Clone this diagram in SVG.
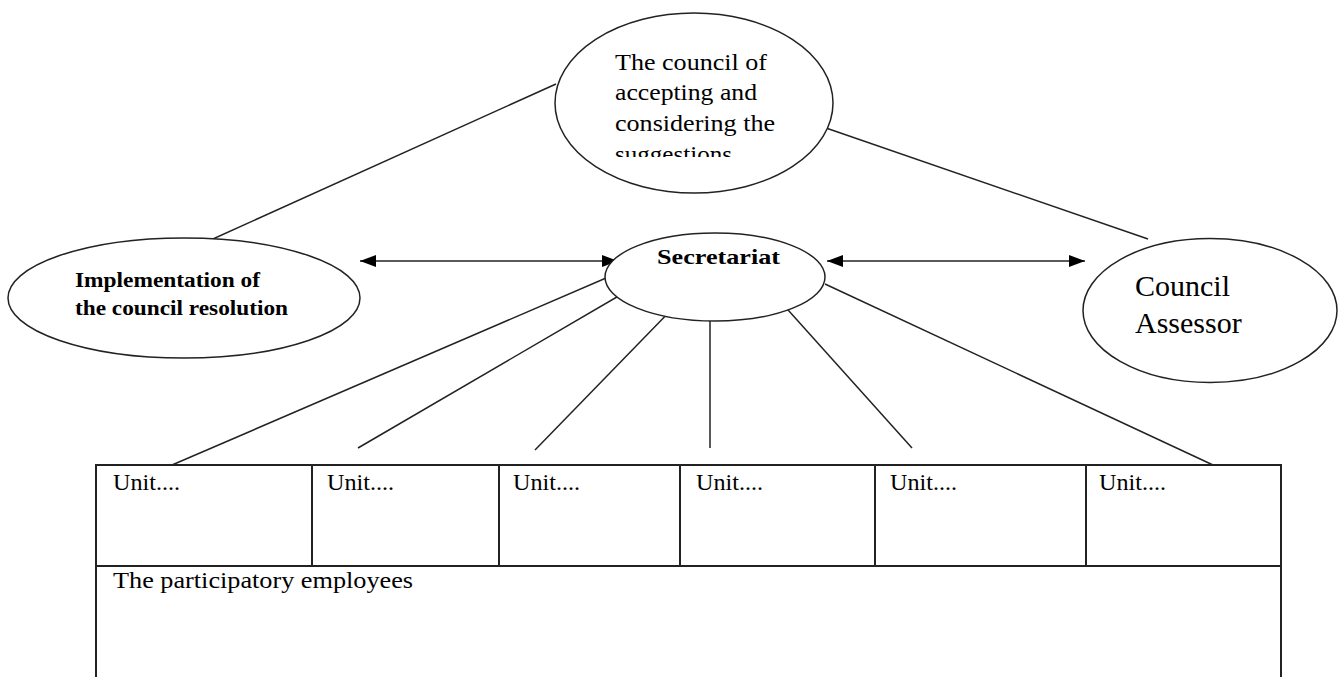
<svg xmlns="http://www.w3.org/2000/svg" width="1338" height="677" viewBox="0 0 1338 677">
<style>
.shape{fill:#fff;stroke:#222;stroke-width:1.5}
.conn{stroke:#222;stroke-width:1.5;fill:none}
.tbl{stroke:#222;stroke-width:2;fill:none}
.serif{font-family:"Liberation Serif","Times New Roman",serif;fill:#000}
.bold{font-weight:bold}
</style>
<defs>
<marker id="ah" viewBox="0 0 16 12" refX="16" refY="6" markerWidth="16" markerHeight="12" markerUnits="userSpaceOnUse" orient="auto-start-reverse">
<path d="M0,0 L16,6 L0,12 z" fill="#000"/>
</marker>
<clipPath id="clipTop"><rect x="560" y="0" width="270" height="157"/></clipPath>
</defs>
<g id="connectors">
<line class="conn" x1="556" y1="84" x2="204" y2="243"/>
<line class="conn" x1="826" y1="128" x2="1148" y2="239"/>
<line class="conn" x1="360" y1="261" x2="618" y2="261" marker-start="url(#ah)" marker-end="url(#ah)"/>
<line class="conn" x1="827" y1="261" x2="1085" y2="261" marker-start="url(#ah)" marker-end="url(#ah)"/>
<line class="conn" x1="620" y1="272" x2="172" y2="465"/>
<line class="conn" x1="634" y1="287" x2="358" y2="448"/>
<line class="conn" x1="676" y1="305" x2="535" y2="450"/>
<line class="conn" x1="710" y1="314" x2="710" y2="448"/>
<line class="conn" x1="780" y1="301" x2="912" y2="448"/>
<line class="conn" x1="825" y1="284" x2="1213" y2="465"/>
</g>
<g id="node-council">
<ellipse class="shape" cx="694" cy="103" rx="139" ry="90"/>
<g clip-path="url(#clipTop)" class="serif" font-size="23">
<text x="615" y="70" textLength="152" lengthAdjust="spacingAndGlyphs">The council of</text>
<text x="615" y="100" textLength="142" lengthAdjust="spacingAndGlyphs">accepting and</text>
<text x="615" y="131" textLength="160" lengthAdjust="spacingAndGlyphs">considering the</text>
<text x="615" y="162" textLength="117" lengthAdjust="spacingAndGlyphs">suggestions</text>
</g>
</g>
<g id="node-implementation">
<ellipse class="shape" cx="184" cy="298" rx="176" ry="60"/>
<text class="serif bold" font-size="22" x="75" y="287" textLength="185" lengthAdjust="spacingAndGlyphs">Implementation of</text>
<text class="serif bold" font-size="22" x="75" y="315" textLength="213" lengthAdjust="spacingAndGlyphs">the council resolution</text>
</g>
<g id="node-secretariat">
<ellipse class="shape" cx="715" cy="277" rx="110" ry="44"/>
<text class="serif bold" font-size="22" x="657" y="264" textLength="123" lengthAdjust="spacingAndGlyphs">Secretariat</text>
</g>
<g id="node-assessor">
<ellipse class="shape" cx="1210" cy="310.5" rx="127" ry="72"/>
<text class="serif" font-size="30" x="1135" y="296">Council</text>
<text class="serif" font-size="30" x="1135" y="333">Assessor</text>
</g>
<g id="node-table">
<rect class="tbl" x="96" y="465" width="1185" height="230" fill="#fff"/>
<line class="tbl" x1="96" y1="566" x2="1281" y2="566"/>
<line class="tbl" x1="312" y1="465" x2="312" y2="566"/>
<line class="tbl" x1="499" y1="465" x2="499" y2="566"/>
<line class="tbl" x1="680" y1="465" x2="680" y2="566"/>
<line class="tbl" x1="875" y1="465" x2="875" y2="566"/>
<line class="tbl" x1="1086" y1="465" x2="1086" y2="566"/>
<g class="serif" font-size="24">
<text x="113" y="490" textLength="67" lengthAdjust="spacingAndGlyphs">Unit....</text>
<text x="327" y="490" textLength="67" lengthAdjust="spacingAndGlyphs">Unit....</text>
<text x="513" y="490" textLength="67" lengthAdjust="spacingAndGlyphs">Unit....</text>
<text x="696" y="490" textLength="67" lengthAdjust="spacingAndGlyphs">Unit....</text>
<text x="890" y="490" textLength="67" lengthAdjust="spacingAndGlyphs">Unit....</text>
<text x="1099" y="490" textLength="67" lengthAdjust="spacingAndGlyphs">Unit....</text>
<text x="113" y="588" textLength="300" lengthAdjust="spacingAndGlyphs">The participatory employees</text>
</g>
</g>
</svg>
